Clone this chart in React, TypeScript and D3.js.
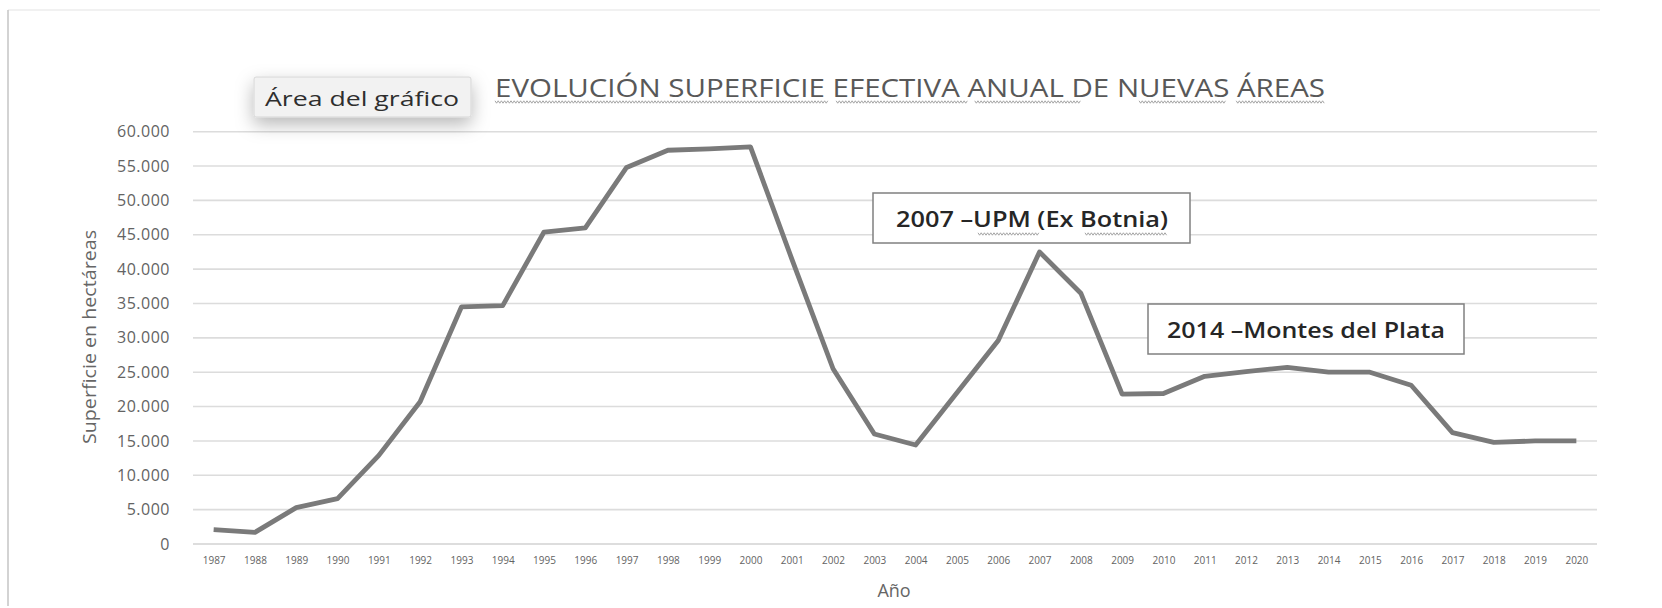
import { useRef, useMemo, useEffect } from 'react';
import * as d3 from 'd3';

// data (hectáreas por año)
const years = [
  '1987', '1988', '1989', '1990', '1991', '1992', '1993', '1994', '1995', '1996',
  '1997', '1998', '1999', '2000', '2001', '2002', '2003', '2004', '2005', '2006',
  '2007', '2008', '2009', '2010', '2011', '2012', '2013', '2014', '2015', '2016',
  '2017', '2018', '2019', '2020',
];
const superficie = [
  2100, 1700, 5300, 6600, 12900, 20700, 34500, 34700, 45400, 46000,
  54800, 57300, 57500, 57800, 41500, 25500, 16000, 14400, 22000, 29600,
  42500, 36500, 21800, 21900, 24400, 25100, 25700, 25000, 25000, 23100,
  16200, 14800, 15000, 15000,
];
const yTicks = [0, 5000, 10000, 15000, 20000, 25000, 30000, 35000, 40000, 45000, 50000, 55000, 60000];

const chartTitle = 'EVOLUCIÓN SUPERFICIE EFECTIVA ANUAL DE NUEVAS ÁREAS';
const yTitle = 'Superficie en hectáreas';
const xTitle = 'Año';
const areaLabel = 'Área del gráfico';
const notes = ['2007 –UPM (Ex Botnia)', '2014 –Montes del Plata'];

const esLocale = d3.formatLocale({ decimal: ',', thousands: '.', grouping: [3], currency: ['$', ''] });
const fmt = esLocale.format(',d');

// spell-check squiggle under words
const wavy = (x0: number, x1: number, y: number) => {
  const pts: [number, number][] = [];
  for (let x = x0, i = 0; x <= x1; x += 1.6, i++) pts.push([x, y + (i % 2 ? 1.2 : -1.2)]);
  return d3.line()(pts) || '';
};

const App = () => {
  const width = 1662;
  const height = 608;
  const plotLeft = 193;
  const plotRight = 1597;
  const plotTop = 131.7;
  const plotBottom = 544;

  const axesRef = useRef<SVGGElement>(null);

  const xScale = useMemo(() => {
    return d3.scalePoint<string>()
      .domain(years)
      .range([plotLeft, plotRight])
      .padding(0.5);
  }, []);

  const yScale = useMemo(() => {
    return d3.scaleLinear()
      .domain([0, 60000])
      .range([plotBottom, plotTop]);
  }, []);

  useEffect(() => {
    const g = d3.select(axesRef.current);
    g.selectAll('*').remove();

    // Y AXIS
    g.append('g')
      .attr('transform', `translate(${plotLeft}, 0)`)
      .call(d3.axisLeft(yScale).tickValues(yTicks).tickSize(0).tickPadding(23).tickFormat(d => fmt(+d)))
      .call(s => s.select('.domain').remove())
      .call(s => s.selectAll('text')
        .attr('fill', '#636363')
        .attr('font-size', 16)
        .attr('letter-spacing', 0.5)
        .attr('font-family', '"Open Sans", sans-serif'));

    // X AXIS
    g.append('g')
      .attr('transform', `translate(0, ${plotBottom})`)
      .call(d3.axisBottom(xScale).tickSize(0).tickPadding(13))
      .call(s => s.select('.domain').remove())
      .call(s => s.selectAll('text')
        .attr('fill', '#636363')
        .attr('font-size', 10)
        .attr('font-family', '"Open Sans", sans-serif'));
  }, [xScale, yScale]);

  const linePath = d3.line<number>()
    .x((_, i) => xScale(years[i]) as number)
    .y(d => yScale(d))(superficie) || '';

  const titleX0 = 495;
  const titleW = 830;
  const titleSquiggles = [[0, 0.402], [0.411, 0.571], [0.578, 0.706], [0.776, 0.882], [0.893, 1.0]];

  return (
    <svg
      width={width}
      height={height}
      style={{ position: 'absolute', left: 0, top: 0, background: '#fff' }}
      fontFamily='"Open Sans", sans-serif'
    >
      <defs>
        <filter id="shadow" x="-30%" y="-60%" width="160%" height="260%">
          <feDropShadow dx="0" dy="7" stdDeviation="9" floodColor="#000" floodOpacity="0.28" />
        </filter>
      </defs>

      {/* frame */}
      <line x1={8} x2={1600} y1={10} y2={10} stroke="#ececec" strokeWidth={1.5} />
      <line x1={8} x2={8} y1={10} y2={606} stroke="#c4c4c4" strokeWidth={1.5} />

      {/* gridlines */}
      {yTicks.map(t => (
        <line key={t} x1={plotLeft} x2={plotRight} y1={yScale(t)} y2={yScale(t)}
          stroke={t === 0 ? '#d2d2d2' : '#dcdcdc'} strokeWidth={1.6} />
      ))}

      <g ref={axesRef} />

      {/* line */}
      <path d={linePath} fill="none" stroke="#7a7a7a" strokeWidth={4.8} strokeLinejoin="round" strokeLinecap="butt" />

      {/* title */}
      <text x={titleX0} y={97} fontSize={25} fill="#585858" textLength={titleW} lengthAdjust="spacingAndGlyphs">
        {chartTitle}
      </text>
      {titleSquiggles.map(([a, b], i) => (
        <path key={i} d={wavy(titleX0 + a * titleW, titleX0 + b * titleW, 102)} fill="none" stroke="#9a9a9a" strokeWidth={0.9} />
      ))}

      {/* axis titles */}
      <text transform="translate(96, 337) rotate(-90)" textAnchor="middle" fontSize={18} fill="#666"
        textLength={214} lengthAdjust="spacingAndGlyphs">
        {yTitle}
      </text>
      <text x={894} y={597} textAnchor="middle" fontSize={18} fill="#666">{xTitle}</text>

      {/* "Área del gráfico" tooltip */}
      <rect x={254} y={77} width={217} height={40} fill="#f2f2f2" stroke="#d6d6d6" strokeWidth={1} rx={2} filter="url(#shadow)" />
      <text x={265} y={106} fontSize={20} fontWeight={500} fill="#2e2e2e" textLength={194} lengthAdjust="spacingAndGlyphs">{areaLabel}</text>

      {/* annotations */}
      <rect x={873} y={193} width={317} height={50} fill="#fff" stroke="#808080" strokeWidth={1.5} />
      <text x={896} y={227} fontSize={22} fontWeight={600} fill="#262626" textLength={272} lengthAdjust="spacingAndGlyphs">{notes[0]}</text>
      <path d={wavy(978, 1040, 234)} fill="none" stroke="#9a9a9a" strokeWidth={0.9} />
      <path d={wavy(1085, 1167, 234)} fill="none" stroke="#9a9a9a" strokeWidth={0.9} />

      <rect x={1148} y={304} width={316} height={50} fill="#fff" stroke="#808080" strokeWidth={1.5} />
      <text x={1167} y={338} fontSize={22} fontWeight={600} fill="#262626" textLength={278} lengthAdjust="spacingAndGlyphs">{notes[1]}</text>
    </svg>
  );
};

export default App;
